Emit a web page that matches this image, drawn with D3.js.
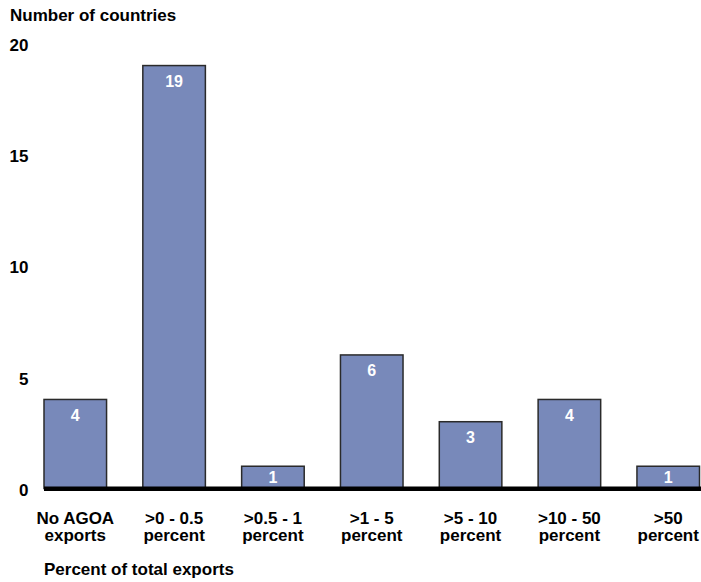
<!DOCTYPE html>
<html><head><meta charset="utf-8">
<script src="https://cdn.jsdelivr.net/npm/d3@7"></script>
<style>body{margin:0;background:#fff}svg{display:block}text{font-family:"Liberation Sans",Arial,sans-serif;font-weight:bold}</style>
</head><body>
<script>
const categories = [["No AGOA","exports"],[">0 - 0.5","percent"],[">0.5 - 1","percent"],[">1 - 5","percent"],[">5 - 10","percent"],[">10 - 50","percent"],[">50","percent"]];
const values = [4, 19, 1, 6, 3, 4, 1];
const yTicks = [0, 5, 10, 15, 20];
const yTitle = "Number of countries";
const xTitle = "Percent of total exports";

const W = 701, H = 582;
const svg = d3.select("body").append("svg").attr("width", W).attr("height", H);

const x = d3.scaleBand().domain(d3.range(values.length)).range([44, 699.5]).paddingInner(0.367).paddingOuter(0);
const y = d3.scaleLinear().domain([0, 20]).range([488.5, 43.3]);

// bars
svg.selectAll("rect.bar").data(values).join("rect")
  .attr("class","bar")
  .attr("x", (d,i) => x(i))
  .attr("y", d => y(d))
  .attr("width", x.bandwidth())
  .attr("height", d => y(0) - y(d))
  .attr("fill", "#7889BA")
  .attr("stroke", "#2a2a2a")
  .attr("stroke-width", 1.5);

// value labels
svg.selectAll("text.val").data(values).join("text")
  .attr("class","val")
  .attr("x", (d,i) => x(i) + x.bandwidth()/2)
  .attr("y", d => Math.min(y(d) + 21.5, (y(d) + y(0))/2 + 6))
  .attr("text-anchor","middle")
  .attr("fill","#fff")
  .attr("font-size", 16)
  .text(d => d);

// baseline
svg.append("line").attr("x1", 44).attr("x2", W).attr("y1", y(0)+0.2).attr("y2", y(0)+0.2)
  .attr("stroke","#000").attr("stroke-width", 4.5);

// y tick labels
svg.selectAll("text.yt").data(yTicks).join("text")
  .attr("class","yt")
  .attr("x", 28.5)
  .attr("y", d => y(d) + 7.5)
  .attr("text-anchor","end")
  .attr("font-size", 17)
  .attr("fill","#000")
  .text(d => d);

// category labels
const cat = svg.selectAll("text.cat").data(categories).join("text")
  .attr("class","cat")
  .attr("text-anchor","middle")
  .attr("font-size", 17)
  .attr("fill","#000");
cat.each(function(lines, i){
  const t = d3.select(this);
  lines.forEach((ln, j) => {
    t.append("tspan").attr("x", x(i) + x.bandwidth()/2).attr("y", 523.5 + j*17).text(ln);
  });
});

svg.append("text").attr("x", 10).attr("y", 21).attr("font-size", 17).attr("fill","#000").text(yTitle);
svg.append("text").attr("x", 44).attr("y", 574.5).attr("font-size", 17).attr("fill","#000").text(xTitle);
</script>
</body></html>
